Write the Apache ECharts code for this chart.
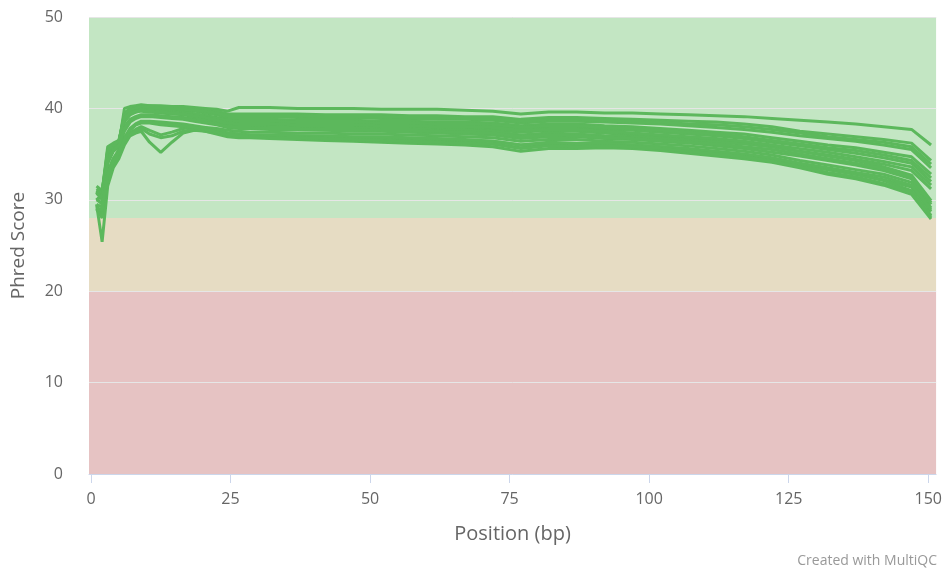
<!DOCTYPE html>
<html>
<head>
<meta charset="utf-8">
<script src="https://cdn.jsdelivr.net/npm/echarts@6/dist/echarts.min.js"></script>
<style>
html,body{margin:0;padding:0;background:#fff;}
#chart{width:945px;height:571px;}
</style>
</head>
<body>
<div id="chart"></div>
<script>
const positions = [1,2,3,4,5,6,7,8,9,10.5,12.5,14.5,16.5,18.5,20.5,22.5,24.5,26.5,28.5,32,37,42,47,52,57,62,67,72,77,82,87,92,97,102,107,112,117,122,127,132,137,142,147,150.5];

const s1 = [31.5,31.0,34.5,35.5,36.0,40.0,40.2,40.3,40.4, 40.3,40.3,40.2,40.2,40.1,40.0,39.9,39.7,40.1,40.1, 40.1,40.0,40.0,40.0,39.9,39.9,39.9,39.8,39.7,39.4,39.6,39.6, 39.5,39.5,39.4,39.3,39.2,39.1,38.9,38.7,38.5,38.3,38.0,37.7,36.0];
const s2 = [31.0,30.8,34.0,35.8,36.3,39.5,40.0,40.1,40.3, 40.3,40.2,40.2,40.1,40.0,39.9,39.7,39.4,39.4,39.4, 39.4,39.4,39.3,39.3,39.3,39.2,39.2,39.1,39.1,38.8,39.0,39.0, 38.9,38.8,38.7,38.6,38.5,38.3,38.0,37.5,37.2,36.9,36.6,36.2,34.3];
const s3 = [30.0,30.5,35.5,36.0,36.4,39.0,39.6,39.9,40.0, 40.0,39.9,39.9,39.8,39.7,39.5,39.3,39.0,39.1,39.1, 39.1,39.0,39.0,39.0,38.9,38.9,38.8,38.8,38.7,38.4,38.6,38.6, 38.5,38.4,38.3,38.1,37.9,37.7,37.4,37.0,36.7,36.4,36.0,35.5,33.5];
const s4 = [29.0,28.5,33.0,34.5,35.5,38.5,39.3,39.6,39.8, 39.8,39.7,39.6,39.5,39.4,39.2,39.0,38.8,38.8,38.8, 38.8,38.7,38.7,38.7,38.6,38.6,38.5,38.5,38.4,38.1,38.3,38.3, 38.1,38.0,37.8,37.6,37.4,37.2,36.8,36.4,36.0,35.7,35.2,34.7,32.8];
const s5 = [31.2,30.8,35.8,36.2,36.5,39.2,39.7,39.9,40.0, 39.9,39.8,39.7,39.6,39.4,39.2,38.9,38.6,38.5,38.5, 38.5,38.4,38.4,38.4,38.3,38.3,38.2,38.2,38.1,37.8,37.9,37.9, 37.7,37.6,37.4,37.2,37.0,36.7,36.3,35.9,35.5,35.1,34.6,34.0,32.0];
const s6 = [30.5,31.0,35.0,36.0,36.3,38.8,39.4,39.6,39.7, 39.6,39.5,39.4,39.3,39.1,38.9,38.6,38.3,38.2,38.2, 38.2,38.1,38.1,38.1,38.0,38.0,37.9,37.8,37.7,37.4,37.6,37.5, 37.3,37.1,36.9,36.7,36.5,36.2,35.8,35.3,34.9,34.4,33.9,33.2,31.2];
const s7 = [30.8,30.0,34.5,35.5,36.0,38.0,38.8,39.1,39.3, 39.3,39.2,39.1,39.0,38.9,38.7,38.5,38.2,38.1,38.1, 38.0,38.0,37.9,37.9,37.8,37.8,37.7,37.6,37.5,37.1,37.3,37.2, 37.0,36.9,36.7,36.5,36.3,36.1,35.8,35.3,34.8,34.3,33.6,32.7,29.9];
const s8 = [29.0,28.0,32.5,34.0,35.0,36.5,37.3,37.7,38.0, 37.6,37.1,37.4,37.8,37.9,37.9,37.8,37.6,37.5,37.4, 37.4,37.3,37.3,37.2,37.2,37.1,37.0,36.9,36.8,36.4,36.6,36.6, 36.4,36.3,36.1,35.9,35.6,35.3,34.9,34.3,33.8,33.3,32.8,31.9,29.1];
const s9 = [29.5,25.4,31.5,33.5,34.5,36.0,37.0,37.3,37.5, 36.3,35.2,36.3,37.3,37.6,37.5,37.3,37.1,37.0,36.9, 36.9,36.8,36.7,36.6,36.6,36.5,36.4,36.3,36.1,35.7,36.0,35.9, 35.9,35.8,35.6,35.4,35.1,34.8,34.4,33.8,33.3,32.8,32.2,31.4,28.7];
const s10 = [31.0,30.5,34.0,35.3,35.8,37.5,38.5,38.9,39.1, 39.1,39.0,38.9,38.8,38.6,38.4,38.2,37.9,37.8,37.8, 37.7,37.7,37.6,37.5,37.5,37.4,37.3,37.2,37.1,36.7,36.9,36.9, 36.7,36.6,36.4,36.2,35.9,35.6,35.2,34.8,34.3,33.8,33.2,32.3,29.5];
const s11 = [30.2,29.5,33.0,34.5,35.3,36.8,37.8,38.3,38.6, 38.6,38.5,38.4,38.3,38.1,37.9,37.6,37.3,37.2,37.1, 37.0,37.0,36.9,36.8,36.8,36.7,36.6,36.5,36.4,36.0,36.2,36.1, 36.1,36.0,35.8,35.5,35.2,34.9,34.4,33.8,33.3,32.8,32.1,31.0,28.3];
const s12 = [28.8,29.0,32.5,34.0,35.0,36.5,37.6,38.2,38.4, 38.4,38.2,38.1,38.0,37.8,37.5,37.2,36.9,36.8,36.8, 36.7,36.6,36.5,36.4,36.3,36.2,36.1,36.0,35.8,35.3,35.6,35.6, 35.7,35.6,35.4,35.1,34.8,34.5,34.1,33.5,32.8,32.3,31.6,30.6,27.9];
const s13 = [30.8,30.2,34.8,35.9,36.3,39.3,39.8,40.0,40.2, 40.1,40.0,40.0,39.9,39.8,39.7,39.5,39.2,39.2,39.2, 39.2,39.2,39.1,39.1,39.1,39.0,39.0,38.9,38.9,38.6,38.8,38.8, 38.7,38.6,38.5,38.3,38.2,38.0,37.7,37.3,36.9,36.6,36.3,35.8,33.9];
const s14 = [30.0,29.6,34.5,35.4,36.0,38.9,39.5,39.7,39.9, 39.8,39.7,39.6,39.5,39.4,39.2,38.9,38.7,38.6,38.6, 38.6,38.5,38.5,38.5,38.4,38.4,38.3,38.3,38.2,37.9,38.1,38.1, 37.9,37.8,37.6,37.4,37.2,36.9,36.5,36.1,35.7,35.4,34.9,34.3,32.4];
const s15 = [30.8,30.9,35.4,36.1,36.4,39.0,39.5,39.7,39.8, 39.7,39.6,39.5,39.4,39.2,39.0,38.7,38.4,38.3,38.3, 38.3,38.2,38.2,38.2,38.1,38.1,38.0,38.0,37.9,37.6,37.7,37.7, 37.5,37.3,37.1,36.9,36.7,36.4,36.0,35.6,35.2,34.7,34.2,33.6,31.6];
const s16 = [30.9,30.2,34.2,35.4,35.9,37.8,38.6,39.0,39.2, 39.2,39.1,39.0,38.9,38.7,38.5,38.3,38.0,37.9,37.9, 37.8,37.8,37.7,37.7,37.6,37.6,37.5,37.4,37.3,36.9,37.1,37.0, 36.8,36.7,36.5,36.3,36.1,35.8,35.5,35.0,34.5,34.0,33.4,32.5,29.7];
const s17 = [29.2,28.8,32.0,33.8,34.8,36.2,37.1,37.5,37.8, 37.2,36.8,37.0,37.5,37.7,37.7,37.5,37.3,37.2,37.1, 37.1,37.0,37.0,36.9,36.9,36.8,36.7,36.6,36.4,36.0,36.3,36.2, 36.2,36.0,35.8,35.6,35.3,35.0,34.6,34.0,33.5,33.0,32.5,31.6,28.9];
const s18 = [29.5,29.2,32.8,34.2,35.1,36.6,37.7,38.2,38.5, 38.5,38.3,38.2,38.1,37.9,37.7,37.4,37.1,37.0,36.9, 36.8,36.8,36.7,36.6,36.5,36.4,36.3,36.2,36.1,35.6,35.9,35.8, 35.9,35.8,35.6,35.3,35.0,34.7,34.2,33.6,33.0,32.5,31.8,30.8,28.1];

const samples = [s1,s2,s3,s4,s5,s6,s7,s8,s9,s10,s11,s12,s13,s14,s15,s16,s17,s18];
const xTicks = [0,25,50,75,100,125,150];
const bandEdges = [0,20,28,50];
const bandColors = ['#e6c3c3','#e6dcc3','#c3e6c3'];

const FONT = 'Open Sans';

const bandData = [];
for (let i = 0; i < bandColors.length; i++) {
  bandData.push([{yAxis: bandEdges[i], itemStyle: {color: bandColors[i]}}, {yAxis: bandEdges[i+1]}]);
}

const series = [{
  type: 'line',
  data: [],
  z: 1,
  silent: true,
  markArea: { silent: true, z: 1, data: bandData }
}];
samples.forEach((vals, k) => {
  series.push({
    type: 'line',
    name: 'Sample ' + (k+1),
    data: positions.map((p, i) => [p, vals[i]]),
    showSymbol: false,
    symbol: 'none',
    z: 4,
    lineStyle: { color: '#5cb85c', width: 3 },
    itemStyle: { color: '#5cb85c' }
  });
});

const chart = echarts.init(document.getElementById('chart'));
chart.setOption({
  animation: false,
  title: {
    text: 'Created with MultiQC',
    right: 3, top: 549,
    textStyle: { color: '#999999', fontSize: 14, fontWeight: 'normal', fontFamily: FONT }
  },
  grid: { left: 89, right: 4, top: 17, bottom: 97, containLabel: false },
  xAxis: {
    type: 'value',
    min: -0.35, max: 151.4,
    z: 2,
    name: 'Position (bp)',
    nameLocation: 'middle',
    nameGap: 50,
    nameTextStyle: { color: '#666666', fontSize: 20, fontFamily: FONT },
    axisLine: { show: true, lineStyle: { color: '#ccd6eb', width: 1 } },
    axisTick: { show: true, length: 9, customValues: xTicks, lineStyle: { color: '#ccd6eb' } },
    axisLabel: { customValues: xTicks, color: '#666666', fontSize: 16, fontFamily: FONT, margin: 17 },
    splitLine: { show: false }
  },
  yAxis: {
    type: 'value',
    min: 0, max: 50, interval: 10,
    z: 2,
    name: 'Phred Score',
    nameLocation: 'middle',
    nameGap: 61,
    nameTextStyle: { color: '#666666', fontSize: 19, fontFamily: FONT },
    axisLine: { show: false },
    axisTick: { show: false },
    axisLabel: { color: '#666666', fontSize: 16, fontFamily: FONT, margin: 26 },
    splitLine: { show: true, lineStyle: { color: '#e6e6e6', width: 1 } }
  },
  series: series
});
</script>
</body>
</html>
